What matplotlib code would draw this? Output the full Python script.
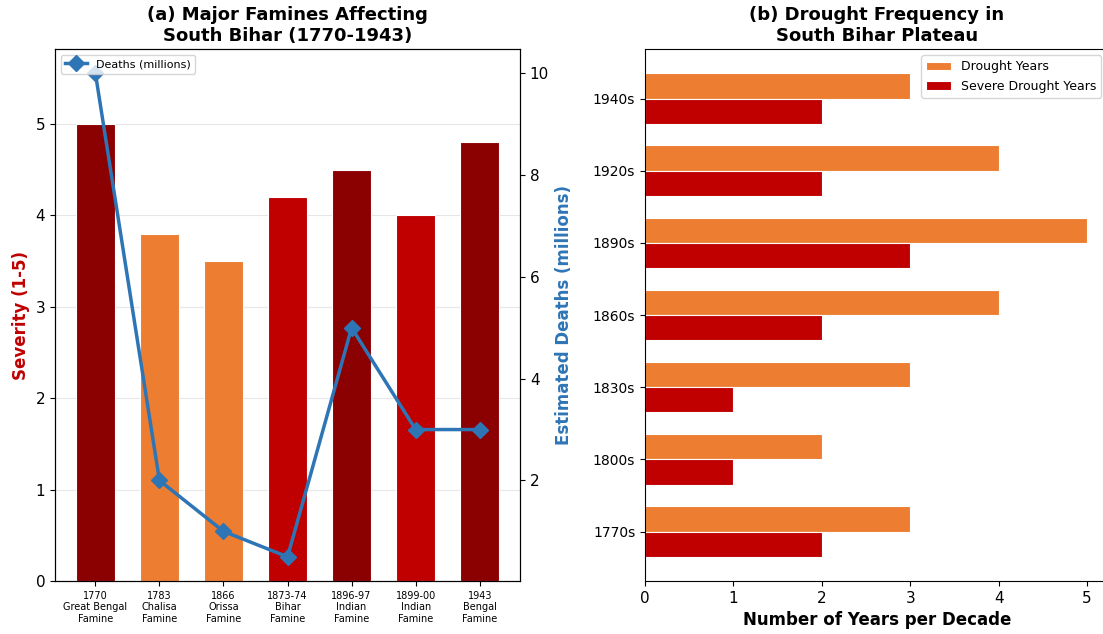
import matplotlib.pyplot as plt
import numpy as np

# Data
famines = ["1770\nGreat Bengal\nFamine", "1783\nChalisa\nFamine", "1866\nOrissa\nFamine",
           "1873-74\nBihar\nFamine", "1896-97\nIndian\nFamine", "1899-00\nIndian\nFamine",
           "1943\nBengal\nFamine"]
severity = [5.0, 3.8, 3.5, 4.2, 4.5, 4.0, 4.8]
deaths = [10, 2, 1, 0.5, 5, 3, 3]

decades = ["1770s", "1800s", "1830s", "1860s", "1890s", "1920s", "1940s"]
drought_years = [3, 2, 3, 4, 5, 4, 3]
severe_years = [2, 1, 1, 2, 3, 2, 2]

DARK = '#8B0000'
RED = '#C00000'
ORANGE = '#ED7D31'
BLUE = '#2E75B6'


def sev_color(s):
    if s >= 4.5:
        return DARK
    if s >= 4.0:
        return RED
    return ORANGE


fig = plt.figure(figsize=(11.03, 6.34), dpi=100)
ax1 = fig.add_axes([0.0499, 0.0836, 0.4216, 0.839])
ax3 = fig.add_axes([0.5848, 0.0836, 0.4207, 0.839])

# (a) famines
x = np.arange(len(famines))
ax1.bar(x, severity, width=0.6, color=[sev_color(s) for s in severity],
        edgecolor='white', linewidth=0.8, zorder=2)
ax1.set_ylim(0, 5.82)
ax1.set_xticks(x)
ax1.set_xticklabels(famines, fontsize=7)
ax1.tick_params(axis='y', labelsize=11)
ax1.set_ylabel("Severity (1-5)", color=RED, fontsize=12, fontweight='bold')
ax1.grid(axis='y', alpha=0.3, zorder=0)
ax1.set_title("(a) Major Famines Affecting\nSouth Bihar (1770-1943)", fontsize=13, fontweight='bold')

ax2 = ax1.twinx()
ax2.plot(x, deaths, color=BLUE, marker='D', markersize=8, linewidth=2.5, label="Deaths (millions)")
ax2.set_ylabel("Estimated Deaths (millions)", color=BLUE, fontsize=12, fontweight='bold')
ax2.tick_params(axis='y', labelsize=11)
ax2.set_yticks([2, 4, 6, 8, 10])
ax2.legend(loc='upper left', fontsize=8)

# (b) drought frequency
y = np.arange(len(decades))
h = 0.35
ax3.barh(y + h / 2, drought_years, height=h, color=ORANGE, edgecolor='white',
         linewidth=0.8, label="Drought Years")
ax3.barh(y - h / 2, severe_years, height=h, color=RED, edgecolor='white',
         linewidth=0.8, label="Severe Drought Years")
ax3.set_yticks(y)
ax3.set_yticklabels(decades, fontsize=10)
ax3.set_xlim(0, 5.25)
ax3.set_xticks([0, 1, 2, 3, 4, 5])
ax3.tick_params(axis='x', labelsize=11)
ax3.set_xlabel("Number of Years per Decade", fontsize=12, fontweight='bold')
ax3.set_title("(b) Drought Frequency in\nSouth Bihar Plateau", fontsize=13, fontweight='bold')
ax3.legend(loc='upper right', bbox_to_anchor=(0.997, 1.0), fontsize=9)

fig.savefig("out.png", dpi=100)
